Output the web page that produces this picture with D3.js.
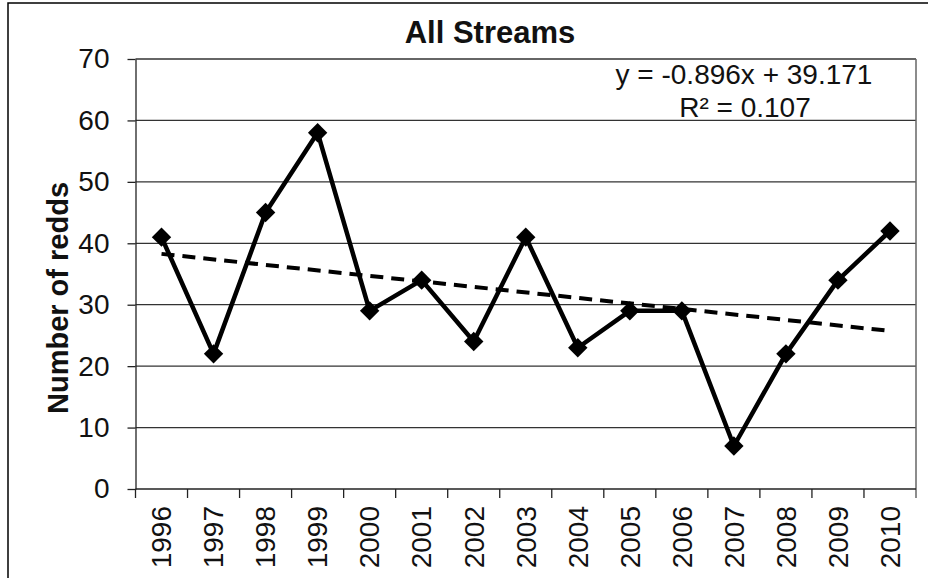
<!DOCTYPE html>
<html>
<head>
<meta charset="utf-8">
<script src="https://cdn.jsdelivr.net/npm/d3@7"></script>
<style>
  body { margin: 0; background: #fff; }
  svg { display: block; font-family: "Liberation Sans", Arial, sans-serif; }
</style>
</head>
<body>
<div id="chart"></div>
<script>
const years = ["1996", "1997", "1998", "1999", "2000", "2001", "2002", "2003",
               "2004", "2005", "2006", "2007", "2008", "2009", "2010"];
const redds = [41, 22, 45, 58, 29, 34, 24, 41, 23, 29, 29, 7, 22, 34, 42];
const yTicks = [0, 10, 20, 30, 40, 50, 60, 70];
// linear trend as reported on the chart: y = slope*x + intercept, x = 1..n
const slope = -0.896;
const intercept = 39.171;
const r2 = 0.107;

const width = 928;
const height = 578;
const margin = {top: 59, right: 12, bottom: 89, left: 135.5};

const svg = d3.select("#chart").append("svg")
    .attr("width", width)
    .attr("height", height)
    .attr("viewBox", [0, 0, width, height]);

// outer frame of the figure (runs off the right and bottom of the picture)
svg.append("rect")
    .attr("x", 8).attr("y", 3)
    .attr("width", 1000).attr("height", 1000)
    .attr("fill", "none")
    .attr("stroke", "#000")
    .attr("stroke-width", 1.5);

const x = d3.scaleBand()
    .domain(years)
    .range([margin.left, width - margin.right]);

const y = d3.scaleLinear()
    .domain([0, 70])
    .range([height - margin.bottom, margin.top]);

// gridlines
svg.append("g")
    .selectAll("line")
    .data(yTicks.filter(d => d > 0))
    .join("line")
    .attr("x1", margin.left)
    .attr("x2", width - margin.right)
    .attr("y1", d => y(d))
    .attr("y2", d => y(d))
    .attr("stroke", "#333")
    .attr("stroke-width", 1.3);

// right border of plot area
svg.append("line")
    .attr("x1", width - margin.right).attr("x2", width - margin.right)
    .attr("y1", y(70)).attr("y2", y(0) + 9)
    .attr("stroke", "#666")
    .attr("stroke-width", 1.5);

// y axis
const yAxis = d3.axisLeft(y)
    .tickValues(yTicks)
    .tickSize(8)
    .tickPadding(18)
    .tickSizeOuter(0);

svg.append("g")
    .attr("transform", `translate(${margin.left},0)`)
    .call(yAxis)
    .call(g => g.select(".domain").attr("stroke", "#222").attr("stroke-width", 1.3))
    .call(g => g.selectAll(".tick line").attr("stroke", "#222").attr("stroke-width", 1.3))
    .call(g => g.selectAll(".tick text")
        .attr("font-size", 28)
        .attr("font-family", "Liberation Sans, Arial, sans-serif")
        .attr("fill", "#111"));

// x axis: ticks sit between the categories
const xg = svg.append("g")
    .attr("transform", `translate(0,${y(0)})`);

xg.append("line")
    .attr("x1", margin.left).attr("x2", width - margin.right)
    .attr("stroke", "#222").attr("stroke-width", 1.3);

xg.selectAll(".tickmark")
    .data(years)
    .join("line")
    .attr("class", "tickmark")
    .attr("x1", d => x(d)).attr("x2", d => x(d))
    .attr("y1", 0).attr("y2", 9)
    .attr("stroke", "#222").attr("stroke-width", 1.3);

xg.selectAll(".label")
    .data(years)
    .join("text")
    .attr("class", "label")
    .attr("transform", d => `translate(${x(d) + x.bandwidth() / 2},17) rotate(-90)`)
    .attr("text-anchor", "end")
    .attr("dy", "0.35em")
    .attr("font-size", 28)
    .attr("fill", "#111")
    .text(d => d);

// y axis title
svg.append("text")
    .attr("transform", `translate(58,298) rotate(-90)`)
    .attr("text-anchor", "middle")
    .attr("dy", "0.35em")
    .attr("font-size", 29)
    .attr("font-weight", "bold")
    .attr("fill", "#111")
    .text("Number of redds");

// chart title
svg.append("text")
    .attr("x", 490)
    .attr("y", 43)
    .attr("text-anchor", "middle")
    .attr("font-size", 31)
    .attr("font-weight", "bold")
    .attr("fill", "#111")
    .text("All Streams");

const cx = d => x(d) + x.bandwidth() / 2;

// trend line
const trend = [years[0], years[years.length - 1]].map(d => ({
    year: d,
    value: slope * (years.indexOf(d) + 1) + intercept
}));

svg.append("path")
    .datum(trend)
    .attr("fill", "none")
    .attr("stroke", "#000")
    .attr("stroke-width", 4)
    .attr("stroke-dasharray", "13,8")
    .attr("d", d3.line().x(d => cx(d.year)).y(d => y(d.value)));

// data line
const data = years.map((d, i) => ({year: d, value: redds[i]}));

svg.append("path")
    .datum(data)
    .attr("fill", "none")
    .attr("stroke", "#000")
    .attr("stroke-width", 4.5)
    .attr("stroke-linejoin", "round")
    .attr("d", d3.line().x(d => cx(d.year)).y(d => y(d.value)));

svg.append("g")
    .selectAll("path")
    .data(data)
    .join("path")
    .attr("transform", d => `translate(${cx(d.year)},${y(d.value)})`)
    .attr("d", d3.symbol(d3.symbolDiamond2, 240))
    .attr("fill", "#000");

// regression label
const eq = svg.append("text")
    .attr("text-anchor", "middle")
    .attr("font-size", 28)
    .attr("fill", "#111");
eq.append("tspan")
    .attr("x", 744).attr("y", 84)
    .text(`y = ${slope}x + ${intercept}`);
eq.append("tspan")
    .attr("x", 745).attr("y", 117)
    .text(`R² = ${r2}`);
</script>
</body>
</html>
